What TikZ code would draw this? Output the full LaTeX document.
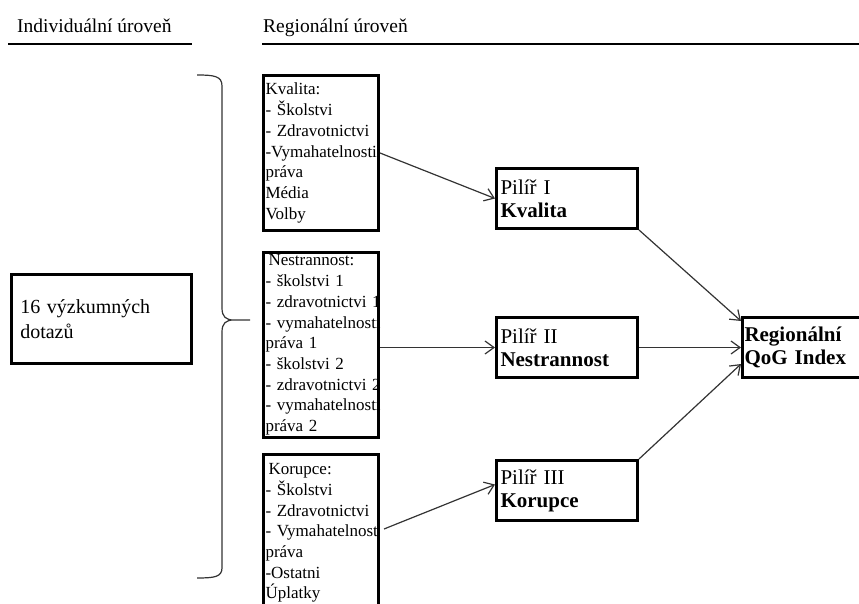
\documentclass[tikz,border=0pt]{standalone}
\usepackage{fontspec}
\setmainfont{Liberation Serif}
\usetikzlibrary{arrows.meta, positioning}
\hyphenpenalty=10000
\exhyphenpenalty=10000

\begin{document}
\begin{tikzpicture}[x=1pt, y=-1pt,
    level/.style={inner sep=0pt, anchor=base west, font=\fontsize{19.5}{22}\selectfont},
    levelline/.style={line width=1.8pt},
    listbox/.style={draw, line width=3pt, text width=111pt, inner xsep=2pt, inner ysep=1pt, align=left, font=\fontsize{17}{20.7}\selectfont},
    pilbox/.style={draw, line width=3pt, text width=133pt, inner xsep=4pt, inner ysep=3pt, minimum height=60pt, align=left, font=\fontsize{21}{23}\selectfont},
    conn/.style={draw=black!80, line width=1.2pt, -{Straight Barb[length=9pt,width=13pt]}}]
    \useasboundingbox (0,0) rectangle (859,604);
    \clip (0,0) rectangle (859,604);

    % headers
    \node[level] (hindiv) at (17,33) {Individuální úroveň};
    \node[level] (hreg) at (263,33) {Regionální úroveň};
    \draw[levelline] (8,44) -- (192,44);
    \draw[levelline] (262,44) -- (859,44);

    % individual level
    \node[draw, line width=2.5pt, anchor=north west, text width=162pt, inner xsep=9pt,
        minimum height=89pt, align=left, font=\fontsize{20}{25}\selectfont] (dotazy) at (10,273)
        {16 výzkumných\\dotazů};
    \draw[line width=1.2pt, black!80] (197,75) .. controls (214,75) and (222,76) .. (222,86)
        -- (222,308) .. controls (222,317) and (226,320) .. (234,320) -- (250,320)
        (234,320) .. controls (226,320) and (222,323) .. (222,332)
        -- (222,568) .. controls (222,577) and (214,578) .. (197,578);

    % regional level
    \node[listbox, anchor=north west, minimum height=155pt] (kval) at (262,74)
        {Kvalita:\\-~Školstvi\\-~Zdravotnictvi\\-Vymahatelnosti\\práva\\Média\\Volby};
    \node[listbox, minimum height=185pt, below=19pt of kval] (nest)
        {\hspace{3pt}Nestrannost:\\-~školstvi~1\\-~zdravotnictvi~1\\-~vymahatelnosti\\práva~1\\-~školstvi~2\\-~zdravotnictvi~2\\-~vymahatelnosti\\práva~2};
    \node[listbox, inner ysep=9pt, below=14pt of nest] (kor)
        {\hspace{3pt}Korupce:\\-~Školstvi\\-~Zdravotnictvi\\-~Vymahatelnost\\práva\\-Ostatni\\Úplatky};

    \node[pilbox, anchor=north west] (pil1) at (495,167) {Pilíř I\\\textbf{Kvalita}};
    \node[pilbox, below=86pt of pil1] (pil2) {Pilíř II\\\textbf{Nestrannost}};
    \node[pilbox, below=80pt of pil2] (pil3) {Pilíř III\\\textbf{Korupce}};
    \node[pilbox, text width=128pt, inner xsep=2pt, right=102pt of pil2, font=\fontsize{21}{23}\selectfont\bfseries] (reg)
        {Regionální\\QoG Index};

    \draw[conn] (kval.east) -- (pil1.west);
    \draw[conn] (nest.east |- pil2.west) -- (pil2.west);
    \draw[conn] ([shift={(4pt,4pt)}]kor.east) -- ([yshift=6pt]pil3.west);
    \draw[conn] (pil1.south east) -- ([yshift=-5pt]reg.north west);
    \draw[conn] (pil2.east) -- (reg.west);
    \draw[conn] (pil3.north east) -- ([yshift=15pt]reg.south west);
\end{tikzpicture}
\end{document}
